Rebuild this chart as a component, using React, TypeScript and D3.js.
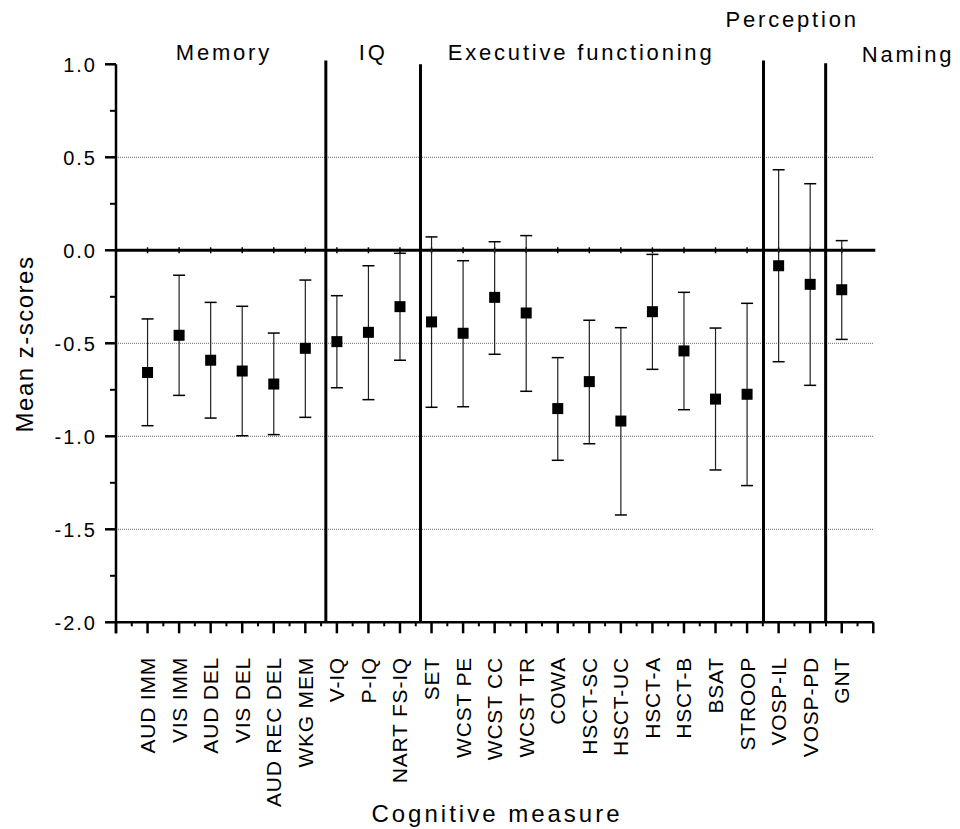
import React from "react";
import * as d3 from "d3";

const categories = [
  "AUD IMM", "VIS IMM", "AUD DEL", "VIS DEL", "AUD REC DEL", "WKG MEM",
  "V-IQ", "P-IQ", "NART FS-IQ",
  "SET", "WCST PE", "WCST CC", "WCST TR", "COWA", "HSCT-SC", "HSCT-UC", "HSCT-A", "HSCT-B", "BSAT", "STROOP",
  "VOSP-IL", "VOSP-PD",
  "GNT",
];
const means = [
  -0.657, -0.457, -0.591, -0.649, -0.719, -0.527,
  -0.491, -0.441, -0.303,
  -0.385, -0.446, -0.253, -0.337, -0.851, -0.706, -0.918, -0.330, -0.541, -0.800, -0.774,
  -0.083, -0.183,
  -0.212,
];
const upper = [
  -0.369, -0.134, -0.280, -0.301, -0.445, -0.160,
  -0.244, -0.083, -0.016,
  0.072, -0.056, 0.046, 0.079, -0.577, -0.376, -0.416, -0.022, -0.226, -0.418, -0.285,
  0.433, 0.358,
  0.052,
];
const lower = [
  -0.943, -0.780, -0.902, -0.997, -0.991, -0.898,
  -0.739, -0.803, -0.591,
  -0.844, -0.841, -0.559, -0.758, -1.129, -1.040, -1.423, -0.640, -0.857, -1.181, -1.265,
  -0.599, -0.726,
  -0.479,
];
const groups = ["Memory", "IQ", "Executive functioning", "Perception", "Naming"];
const groupLabelX = [3.42, 8.15, 14.74, 21.43, 25.1];
const groupLabelY = [1.023, 1.023, 1.023, 1.203, 1.015];
const separators = [6.65, 9.65, 20.52, 22.49];
const separatorTop = [1.02, 1.0, 1.02, 1.005];
const yTicks = [1.0, 0.5, 0.0, -0.5, -1.0, -1.5, -2.0];
const yMinorTicks = [0.75, 0.25, -0.25, -0.75, -1.25, -1.75];
const gridValues = [0.5, -0.5, -1.0, -1.5];

const FONT = "'Liberation Sans', Arial, Helvetica, sans-serif";

export default function App() {
  const x = d3.scaleLinear().domain([0, 24]).range([116, 873.3]);
  const y = d3.scaleLinear().domain([-2, 1]).range([622.3, 64.3]);
  const pos = (i: number) => x(i + 1);
  const majorX = d3.range(0, 25);
  const minorX = d3.range(0.5, 24, 1);
  const sq = 11;
  const cap = 6;

  return (
    <svg
      width={960}
      height={829}
      style={{ position: "absolute", left: 0, top: 0, background: "#fff" }}
      fontFamily={FONT}
    >
      <rect x={0} y={0} width={960} height={829} fill="#fff" />
      {gridValues.map((v) => (
        <line
          key={"g" + v}
          x1={x(0)}
          x2={x(24)}
          y1={y(v)}
          y2={y(v)}
          stroke="#666"
          strokeWidth={1}
          strokeDasharray="1,1"
        />
      ))}
      <line x1={x(0)} x2={x(24) + 2} y1={y(0)} y2={y(0)} stroke="#000" strokeWidth={3} />
      {majorX.slice(1, 24).map((t) => (
        <line key={"zt" + t} x1={x(t)} x2={x(t)} y1={y(0) - 3} y2={y(0) + 3} stroke="#000" strokeWidth={1.5} />
      ))}
      {separators.map((s, i) => (
        <line key={"s" + i} x1={x(s)} x2={x(s)} y1={y(separatorTop[i])} y2={y(-2)} stroke="#000" strokeWidth={3} />
      ))}
      <line x1={x(0)} x2={x(0)} y1={y(1)} y2={y(-2) + 11} stroke="#000" strokeWidth={2.5} />
      {yTicks.map((t) => (
        <g key={"yt" + t}>
          <line x1={x(0) - 11} x2={x(0)} y1={y(t)} y2={y(t)} stroke="#000" strokeWidth={2.5} />
          <text
            x={x(0) - 19}
            y={y(t)}
            dy="0.36em"
            textAnchor="end"
            fontSize={20}
            letterSpacing={2}
            fill="#000"
          >
            {t.toFixed(1)}
          </text>
        </g>
      ))}
      {yMinorTicks.map((t) => (
        <line key={"ym" + t} x1={x(0) - 6} x2={x(0)} y1={y(t)} y2={y(t)} stroke="#000" strokeWidth={2} />
      ))}
      <line x1={x(0)} x2={x(24)} y1={y(-2)} y2={y(-2)} stroke="#000" strokeWidth={2.5} />
      {majorX.map((t) => (
        <line key={"xt" + t} x1={x(t)} x2={x(t)} y1={y(-2)} y2={y(-2) + 11} stroke="#000" strokeWidth={2.5} />
      ))}
      {minorX.map((t) => (
        <line key={"xm" + t} x1={x(t)} x2={x(t)} y1={y(-2)} y2={y(-2) + 4} stroke="#000" strokeWidth={2} />
      ))}
      {categories.map((c, i) => (
        <text
          key={"c" + i}
          transform={`translate(${pos(i) + 7.5},${657}) rotate(-90)`}
          textAnchor="end"
          fontSize={21}
          letterSpacing={0.8}
          fill="#000"
        >
          {c}
        </text>
      ))}
      {categories.map((c, i) => (
        <g key={"e" + i}>
          <line x1={pos(i)} x2={pos(i)} y1={y(upper[i])} y2={y(lower[i])} stroke="#222" strokeWidth={1.2} />
          <line x1={pos(i) - cap} x2={pos(i) + cap} y1={y(upper[i])} y2={y(upper[i])} stroke="#000" strokeWidth={1.5} />
          <line x1={pos(i) - cap} x2={pos(i) + cap} y1={y(lower[i])} y2={y(lower[i])} stroke="#000" strokeWidth={1.5} />
          <rect x={pos(i) - sq / 2} y={y(means[i]) - sq / 2} width={sq} height={sq} fill="#000" />
        </g>
      ))}
      {groups.map((g, i) => (
        <text
          key={"gl" + i}
          x={x(groupLabelX[i])}
          y={y(groupLabelY[i])}
          textAnchor="middle"
          fontSize={22}
          letterSpacing={2.8}
          fill="#000"
        >
          {g}
        </text>
      ))}
      <text x={497} y={822} textAnchor="middle" fontSize={24} letterSpacing={3} fill="#000">
        Cognitive measure
      </text>
      <text
        transform={`translate(${33},${344}) rotate(-90)`}
        textAnchor="middle"
        fontSize={24}
        letterSpacing={1.5}
        fill="#000"
      >
        Mean z-scores
      </text>
    </svg>
  );
}
